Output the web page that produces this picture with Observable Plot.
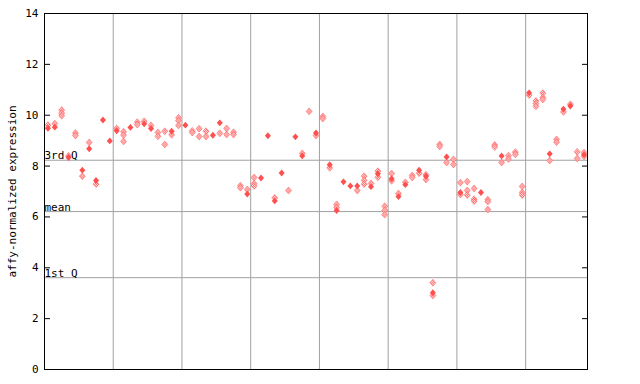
<!DOCTYPE html>
<html>
<head>
<meta charset="utf-8">
<script src="https://cdn.jsdelivr.net/npm/d3@7"></script>
<script src="https://cdn.jsdelivr.net/npm/@observablehq/plot@0.6"></script>
<style>
  html, body { margin: 0; padding: 0; background: white; }
  #chart { width: 640px; height: 384px; }
</style>
</head>
<body>
<div id="chart"></div>
<script>
// ---- data ----
// one entry per sample column (79 columns); solid markers and checkered markers
const filledValues = [
  [9.49], [9.53], [], [8.34], [], [7.84], [8.68], [7.43], [9.81], [8.99],
  [9.39], [], [9.52], [], [9.66], [9.48], [], [], [9.37], [],
  [9.61], [], [], [], [9.21], [9.7], [], [], [], [6.9],
  [], [7.53], [9.19], [6.63], [7.73], [], [9.15], [8.4], [], [9.3],
  [], [8.05], [6.25], [7.38], [7.22], [7.22], [], [7.19], [7.7], [],
  [7.5], [6.8], [7.27], [], [7.84], [7.6], [3.02], [], [8.36], [],
  [6.96], [], [], [6.96], [], [], [8.4], [], [], [],
  [10.88], [], [], [8.48], [], [10.24], [10.36], [], [8.45]
];
const hatchedValues = [
  [9.61], [9.67], [10.2, 10.08, 9.98], [8.4], [9.3, 9.2], [7.6], [8.93], [7.29], [], [],
  [9.48], [9.35, 9.22, 8.97], [], [9.73, 9.63], [9.76], [9.6], [9.32, 9.17], [9.37, 8.85], [9.23], [9.9, 9.78, 9.6],
  [], [9.38, 9.32], [9.47, 9.16], [9.37, 9.16], [], [9.29], [9.48, 9.24], [9.33, 9.24], [7.23, 7.15], [7.08],
  [7.55, 7.31, 7.22], [], [], [6.75], [], [7.04], [], [8.5], [10.15], [9.2],
  [9.95, 9.87], [7.93], [6.49, 6.37], [], [], [7.04], [7.6, 7.44, 7.29], [7.32], [7.8, 7.56], [6.42, 6.26, 6.09],
  [7.71, 7.42], [6.92], [7.36], [7.63, 7.55], [7.72], [7.66, 7.47], [3.41, 2.91], [8.85, 8.77], [8.14], [8.26, 8.06],
  [7.35, 6.88], [7.39, 7.04, 6.86], [7.12, 6.7, 6.62], [], [6.68, 6.6, 6.29], [8.83, 8.75], [8.14], [8.41, 8.28], [8.55, 8.46], [7.2, 6.96, 6.86],
  [10.79], [10.56, 10.46, 10.35], [10.87, 10.7, 10.62], [8.22], [9.05, 8.94], [10.13], [10.43], [8.56, 8.3], [8.53, 8.38]
];
const groupBoundaries = [10, 20, 30, 40, 50, 60, 70];
const quartileLabels = ["3rd Q", "mean", "1st Q"];
const quartileValues = [8.23, 6.21, 3.61];
const yTicks = [0, 2, 4, 6, 8, 10, 12, 14];
const yLabel = "affy-normalized expression";

// ---- tables built from the arrays ----
const nCols = filledValues.length;
const filled = filledValues.flatMap((vs, i) => vs.map(v => ({col: i + 0.5, value: v})));
const hatched = hatchedValues.flatMap((vs, i) => vs.map(v => ({col: i + 0.5, value: v})));
const quartiles = quartileLabels.map((label, i) => ({label, value: quartileValues[i]}));

const red = "#ff5050";
const grid = "#a0a0a0";

// a squarer diamond than d3's default
const wideDiamond = {
  draw(context, size) {
    const r = Math.sqrt(size / Math.PI);
    const w = r, h = r * 1.15;
    context.moveTo(0, -h);
    context.lineTo(w, 0);
    context.lineTo(0, h);
    context.lineTo(-w, 0);
    context.closePath();
  }
};

const chart = Plot.plot({
  width: 640,
  height: 384,
  marginLeft: 44,
  marginRight: 53,
  marginTop: 13,
  marginBottom: 15,
  style: {fontFamily: "'DejaVu Sans Mono', monospace", fontSize: "11px", background: "white", color: "black"},
  x: {domain: [0, nCols], axis: null},
  y: {domain: [0, 14], axis: null},
  marks: [
    Plot.ruleX(groupBoundaries, {stroke: grid, strokeWidth: 1}),
    Plot.ruleY(quartiles, {y: "value", stroke: grid, strokeWidth: 1}),
    Plot.text(quartiles, {y: "value", text: "label", frameAnchor: "left", textAnchor: "start", lineAnchor: "bottom", dy: -1, fill: "black"}),
    Plot.dot(hatched, {x: "col", y: "value", symbol: wideDiamond, r: 3, fill: "url(#chk)", stroke: red, strokeWidth: 0.7, strokeOpacity: 0.7}),
    Plot.dot(filled, {x: "col", y: "value", symbol: wideDiamond, r: 3, fill: red, stroke: "none"}),
    Plot.frame({stroke: "black", strokeWidth: 1}),
    Plot.axisY({anchor: "left", ticks: yTicks, tickSize: -6, tickPadding: 12, label: null}),
    Plot.axisY({anchor: "right", ticks: yTicks, tickSize: -6, tickFormat: () => "", label: null}),
    Plot.text([yLabel], {frameAnchor: "left", rotate: -90, dx: -32, textAnchor: "middle", fill: "black"})
  ]
});

// checkered pattern for the hatched markers
const ns = "http://www.w3.org/2000/svg";
const defs = document.createElementNS(ns, "defs");
const pat = document.createElementNS(ns, "pattern");
pat.setAttribute("id", "chk");
pat.setAttribute("width", "2");
pat.setAttribute("height", "2");
pat.setAttribute("patternUnits", "userSpaceOnUse");
[[0, 0, 2, 2, "white"], [0, 0, 1, 1, red], [1, 1, 1, 1, red]].forEach(([x, y, w, h, f]) => {
  const r = document.createElementNS(ns, "rect");
  r.setAttribute("x", x); r.setAttribute("y", y);
  r.setAttribute("width", w); r.setAttribute("height", h);
  r.setAttribute("fill", f);
  pat.appendChild(r);
});
defs.appendChild(pat);
chart.insertBefore(defs, chart.firstChild);

document.getElementById("chart").appendChild(chart);
</script>
</body>
</html>
